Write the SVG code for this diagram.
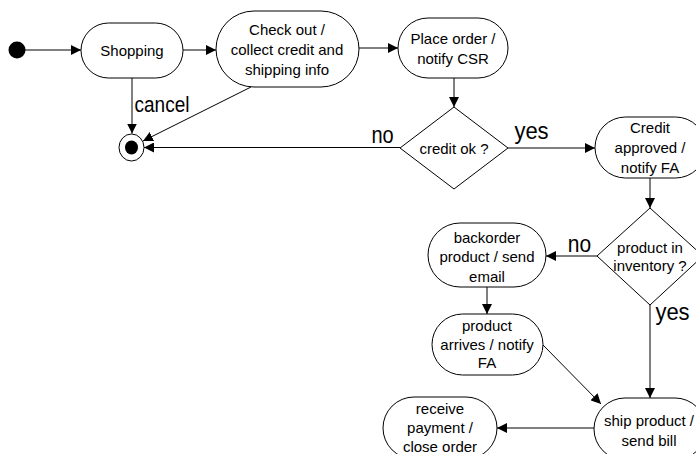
<svg xmlns="http://www.w3.org/2000/svg" width="696" height="454" viewBox="0 0 696 454">
  <style>
    .state { fill: #ffffff; stroke: #000000; stroke-width: 1; }
    .txt { font-family: "Liberation Sans", Arial, sans-serif; font-size: 15px; fill: #000000; text-anchor: middle; }
    .lbl { font-family: "Liberation Sans", Arial, sans-serif; fill: #000000; text-anchor: middle; }
    .edge { fill: none; stroke: #000000; stroke-width: 1; marker-end: url(#arrow); }
  </style>
  <defs>
    <marker id="arrow" viewBox="0 0 10 10" refX="10" refY="5" markerWidth="10" markerHeight="10" markerUnits="userSpaceOnUse" orient="auto">
      <path d="M0,0 L10,5 L0,10 Z" fill="#000000"/>
    </marker>
  </defs>
  <rect width="696" height="454" fill="#ffffff"/>

  <!-- transitions and their guard labels -->
  <g id="connectors">
    <line class="edge" x1="25" y1="50" x2="81" y2="50"/>
    <line class="edge" x1="183" y1="50" x2="216" y2="50"/>
    <line class="edge" x1="359" y1="48" x2="398" y2="48"/>
    <line class="edge" x1="454" y1="78" x2="454" y2="107"/>
    <line class="edge" x1="132" y1="78" x2="132" y2="133.5"/>
    <line class="edge" x1="251" y1="87" x2="143" y2="141"/>
    <line class="edge" x1="400" y1="147.5" x2="144" y2="147.5"/>
    <line class="edge" x1="508" y1="148" x2="595" y2="148"/>
    <line class="edge" x1="650" y1="178" x2="650" y2="208"/>
    <line class="edge" x1="597" y1="256" x2="546" y2="256"/>
    <line class="edge" x1="650" y1="305" x2="650" y2="398"/>
    <line class="edge" x1="487" y1="287" x2="487" y2="314"/>
    <line class="edge" x1="543" y1="345" x2="601" y2="404"/>
    <line class="edge" x1="594" y1="428" x2="497" y2="428"/>
    <text class="lbl" font-size="19" transform="translate(162,112) scale(1,1.15)">cancel</text>
    <text class="lbl" font-size="20" transform="translate(382.5,143) scale(1,1.15)">no</text>
    <text class="lbl" font-size="22" transform="translate(531.5,139) scale(1,1.1)">yes</text>
    <text class="lbl" font-size="21" transform="translate(579.5,252) scale(1,1.15)">no</text>
    <text class="lbl" font-size="22" transform="translate(672.5,320) scale(1,1.1)">yes</text>
  </g>

  <g id="start">
    <circle cx="17" cy="50" r="8.5" fill="#000000"/>
  </g>

  <g id="end">
    <ellipse cx="131.5" cy="147.5" rx="12.5" ry="13.5" fill="#ffffff" stroke="#000000" stroke-width="1"/>
    <ellipse cx="131.5" cy="147.5" rx="6.5" ry="7" fill="#000000"/>
  </g>

  <g id="shopping">
    <rect class="state" x="81" y="23" width="102" height="55" rx="27.5"/>
    <text class="txt" x="132" y="55.5">Shopping</text>
  </g>

  <g id="checkout">
    <rect class="state" x="216" y="11" width="143" height="76" rx="38"/>
    <text class="txt" x="287" y="34.5">Check out /</text>
    <text class="txt" x="287" y="54.5">collect credit and</text>
    <text class="txt" x="287" y="74.5">shipping info</text>
  </g>

  <g id="place-order">
    <rect class="state" x="398" y="18" width="110" height="60" rx="30"/>
    <text class="txt" x="453" y="43.5">Place order /</text>
    <text class="txt" x="453" y="63.5">notify CSR</text>
  </g>

  <g id="credit-ok">
    <polygon class="state" points="454,107 508,148 454,189 400,148"/>
    <text class="txt" x="454" y="153.5">credit ok ?</text>
  </g>

  <g id="credit-approved">
    <rect class="state" x="595" y="117" width="111" height="61" rx="30.5"/>
    <text class="txt" x="650" y="133">Credit</text>
    <text class="txt" x="650" y="153">approved /</text>
    <text class="txt" x="650" y="172.5">notify FA</text>
  </g>

  <g id="in-inventory">
    <polygon class="state" points="650,208 703,256 650,305 597,256"/>
    <text class="txt" x="650" y="252.5">product in</text>
    <text class="txt" x="650" y="271">inventory ?</text>
  </g>

  <g id="backorder">
    <rect class="state" x="428" y="223" width="118" height="64" rx="32"/>
    <text class="txt" x="487" y="243">backorder</text>
    <text class="txt" x="487" y="262">product / send</text>
    <text class="txt" x="487" y="281.5">email</text>
  </g>

  <g id="product-arrives">
    <rect class="state" x="432" y="314" width="111" height="61" rx="30.5"/>
    <text class="txt" x="487" y="330.5">product</text>
    <text class="txt" x="487" y="349.5">arrives / notify</text>
    <text class="txt" x="487" y="368">FA</text>
  </g>

  <g id="ship">
    <rect class="state" x="594" y="398" width="112" height="62" rx="31"/>
    <text class="txt" x="649" y="426">ship product /</text>
    <text class="txt" x="649" y="445.5">send bill</text>
  </g>

  <g id="receive">
    <rect class="state" x="383" y="397" width="114" height="62" rx="31"/>
    <text class="txt" x="440" y="414">receive</text>
    <text class="txt" x="440" y="433">payment /</text>
    <text class="txt" x="440" y="452">close order</text>
  </g>
</svg>
